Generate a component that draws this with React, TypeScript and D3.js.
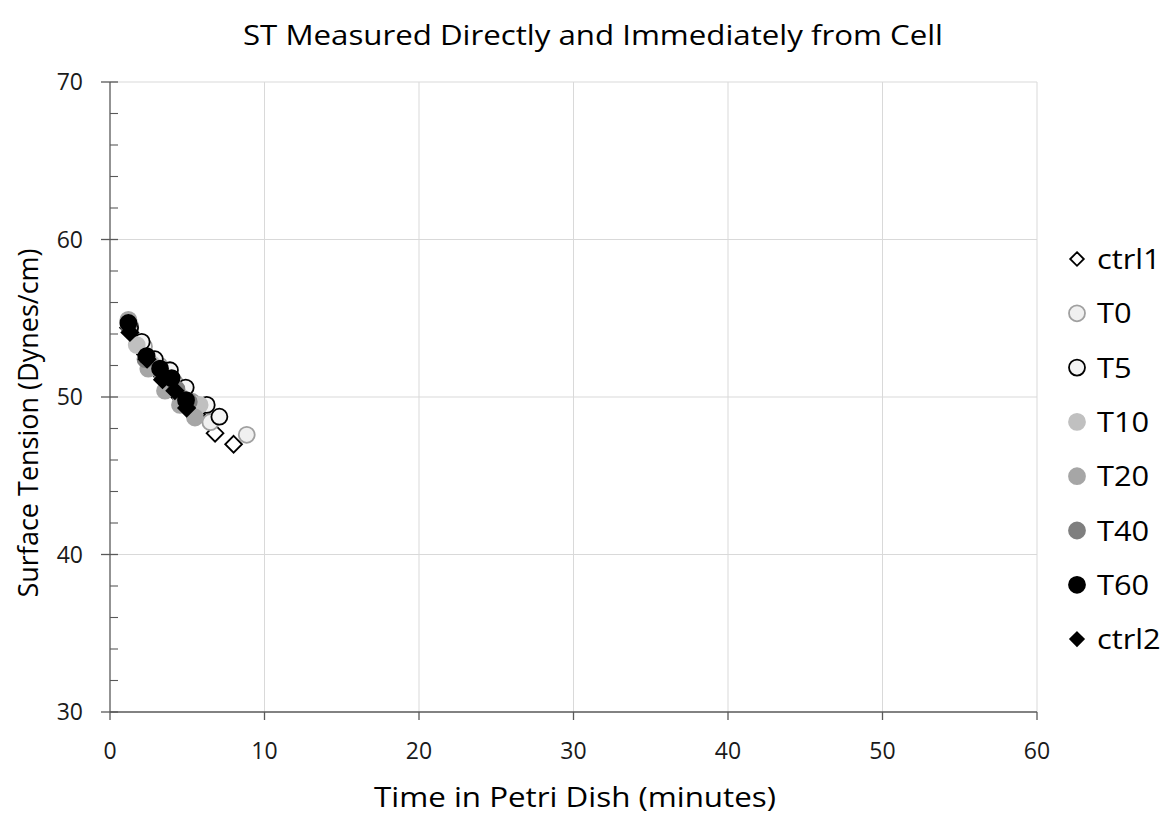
import React from "react";
import * as d3 from "d3";

// Data
const seriesNames = ["ctrl1", "T0", "T5", "T10", "T20", "T40", "T60", "ctrl2"];

const ctrl1Time = [1.2, 2.3, 3.4, 4.5, 5.6, 6.8, 8.0];
const ctrl1ST = [54.4, 52.7, 51.3, 50.0, 48.9, 47.7, 47.0];

const t0Time = [1.3, 2.2, 3.2, 4.2, 5.3, 6.5, 8.85];
const t0ST = [54.5, 53.2, 52.0, 50.9, 49.7, 48.4, 47.6];

const t5Time = [1.3, 2.05, 2.9, 3.88, 4.9, 6.26, 7.08];
const t5ST = [54.4, 53.5, 52.4, 51.7, 50.6, 49.5, 48.75];

const t10Time = [1.2, 1.73, 2.7, 3.7, 4.6, 5.8];
const t10ST = [54.8, 53.3, 52.1, 51.0, 50.0, 49.5];

const t20Time = [1.19, 2.48, 3.56, 4.53, 5.5];
const t20ST = [54.9, 51.8, 50.4, 49.5, 48.7];

const t40Time = [1.2, 2.3, 3.4, 4.3, 5.1];
const t40ST = [54.6, 52.4, 51.3, 50.5, 49.7];

const t60Time = [1.19, 2.37, 3.24, 3.99, 4.92];
const t60ST = [54.7, 52.6, 51.8, 51.2, 49.8];

const ctrl2Time = [1.29, 2.4, 3.4, 4.2, 4.96];
const ctrl2ST = [54.1, 52.4, 51.1, 50.4, 49.3];

const xTicks = [0, 10, 20, 30, 40, 50, 60];
const yTicks = [30, 40, 50, 60, 70];
const yMinorTicks = [32, 34, 36, 38, 42, 44, 46, 48, 52, 54, 56, 58, 62, 64, 66, 68];

// marker styles
const styles: Record<string, { shape: string; fill: string; stroke: string }> = {
  ctrl1: { shape: "diamond", fill: "#ffffff", stroke: "#000000" },
  T0: { shape: "circle", fill: "#f0f0f0", stroke: "#a0a0a0" },
  T5: { shape: "circle", fill: "#f4f4f4", stroke: "#000000" },
  T10: { shape: "circle", fill: "#c0c0c0", stroke: "#c0c0c0" },
  T20: { shape: "circle", fill: "#a6a6a6", stroke: "#a6a6a6" },
  T40: { shape: "circle", fill: "#7f7f7f", stroke: "#7f7f7f" },
  T60: { shape: "circle", fill: "#000000", stroke: "#000000" },
  ctrl2: { shape: "diamond", fill: "#000000", stroke: "#000000" },
};

const series = [
  { name: "ctrl1", t: ctrl1Time, v: ctrl1ST },
  { name: "T0", t: t0Time, v: t0ST },
  { name: "T5", t: t5Time, v: t5ST },
  { name: "T10", t: t10Time, v: t10ST },
  { name: "T20", t: t20Time, v: t20ST },
  { name: "T40", t: t40Time, v: t40ST },
  { name: "T60", t: t60Time, v: t60ST },
  { name: "ctrl2", t: ctrl2Time, v: ctrl2ST },
];

const FONT = "'Open Sans', Lato, sans-serif";

const Marker = ({ name, x, y, r }: { name: string; x: number; y: number; r: number }) => {
  const s = styles[name];
  if (s.shape === "diamond") {
    const h = r * 1.05;
    return (
      <path
        d={`M${x},${y - h}L${x + h},${y}L${x},${y + h}L${x - h},${y}Z`}
        fill={s.fill}
        stroke={s.stroke}
        strokeWidth={1.8}
      />
    );
  }
  return <circle cx={x} cy={y} r={r} fill={s.fill} stroke={s.stroke} strokeWidth={1.8} />;
};

const App = () => {
  const width = 1169;
  const height = 817;
  const margin = { left: 110, right: 132, top: 82, bottom: 105 };

  const xScale = d3.scaleLinear().domain([0, 60]).range([margin.left, width - margin.right]);
  const yScale = d3.scaleLinear().domain([30, 70]).range([height - margin.bottom, margin.top]);

  const x0 = xScale(0);
  const x1 = xScale(60);
  const y0 = yScale(30);
  const y1 = yScale(70);

  return (
    <svg
      width={width}
      height={height}
      style={{ position: "absolute", left: 0, top: 0, background: "#fff" }}
      fontFamily={FONT}
    >
      <rect width={width} height={height} fill="#ffffff" />

      {/* Title */}
      <text x={593} y={45} textAnchor="middle" fontSize={28} fill="#000" textLength={700} lengthAdjust="spacingAndGlyphs">
        ST Measured Directly and Immediately from Cell
      </text>

      {/* Grid */}
      {xTicks.slice(1).map((t) => (
        <line key={"gx" + t} x1={xScale(t)} x2={xScale(t)} y1={y0} y2={y1} stroke="#d9d9d9" strokeWidth={1} />
      ))}
      {yTicks.slice(1).map((t) => (
        <line key={"gy" + t} x1={x0} x2={x1} y1={yScale(t)} y2={yScale(t)} stroke="#d9d9d9" strokeWidth={1} />
      ))}

      {/* Axes */}
      <line x1={x0} x2={x0} y1={y0} y2={y1} stroke="#595959" strokeWidth={1.3} />
      <line x1={x0} x2={x1} y1={y0} y2={y0} stroke="#595959" strokeWidth={1.3} />
      {yTicks.map((t) => (
        <line key={"ty" + t} x1={x0 - 9} x2={x0 + 8} y1={yScale(t)} y2={yScale(t)} stroke="#595959" strokeWidth={1.3} />
      ))}
      {yMinorTicks.map((t) => (
        <line key={"my" + t} x1={x0} x2={x0 + 8} y1={yScale(t)} y2={yScale(t)} stroke="#595959" strokeWidth={1.1} />
      ))}
      {xTicks.map((t) => (
        <line key={"tx" + t} x1={xScale(t)} x2={xScale(t)} y1={y0} y2={y0 + 8} stroke="#595959" strokeWidth={1.3} />
      ))}

      {/* Tick labels */}
      {yTicks.map((t) => (
        <text key={"ly" + t} x={x0 - 27} y={yScale(t) + 8} textAnchor="end" fontSize={23} fill="#1a1a1a">
          {t}
        </text>
      ))}
      {xTicks.map((t) => (
        <text key={"lx" + t} x={xScale(t)} y={y0 + 47} textAnchor="middle" fontSize={23} fill="#1a1a1a">
          {t}
        </text>
      ))}

      {/* Axis titles */}
      <text x={575} y={807} textAnchor="middle" fontSize={28} fill="#000" textLength={402} lengthAdjust="spacingAndGlyphs">
        Time in Petri Dish (minutes)
      </text>
      <text
        transform={`translate(38, 423) rotate(-90)`}
        textAnchor="middle"
        fontSize={27}
        fill="#000"
      >
        Surface Tension (Dynes/cm)
      </text>

      {/* Points */}
      {series.map((s) =>
        s.t.map((t, i) => (
          <Marker key={s.name + i} name={s.name} x={xScale(t)} y={yScale(s.v[i])} r={8} />
        ))
      )}

      {/* Legend */}
      {seriesNames.map((n, i) => {
        const ly = 259 + i * 54.3;
        return (
          <g key={"lg" + n}>
            <Marker name={n} x={1077} y={ly} r={n.startsWith("ctrl") ? 6.5 : 8} />
            <text transform={`translate(1097, ${ly + 10}) scale(1.1, 1)`} fontSize={28} fill="#000">
              {n}
            </text>
          </g>
        );
      })}
    </svg>
  );
};

export default App;
